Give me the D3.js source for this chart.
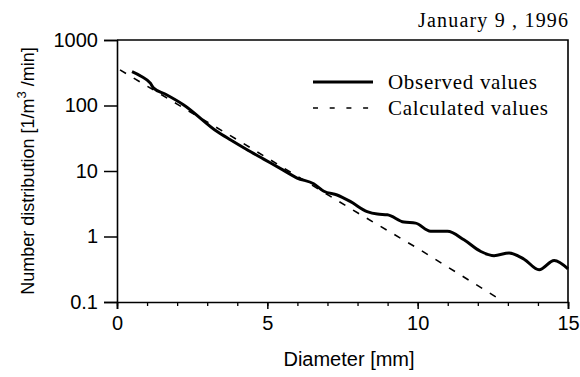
<!DOCTYPE html>
<html><head><meta charset="utf-8">
<script src="https://cdn.jsdelivr.net/npm/d3@7"></script>
<style>body{margin:0;background:#fff}svg{display:block}</style>
</head><body>
<script>
// Observed values: diameter (mm) and number distribution
const obsD = [0.5, 0.8, 1.11, 1.22, 1.6, 2.22, 3.33, 3.77, 4.3, 4.88, 5.5, 5.99, 6.54, 6.88, 7.32, 7.77, 8.32, 8.66, 8.99, 9.54, 9.93, 10.43, 10.99, 11.54, 12.1, 12.54, 13.04, 13.54, 14.04, 14.54, 15.0];
const obsN = [329, 280, 219, 184, 150, 102, 40, 30, 21.5, 15.2, 10.5, 7.8, 6.4, 4.9, 4.3, 3.4, 2.4, 2.2, 2.15, 1.66, 1.6, 1.2, 1.2, 0.89, 0.59, 0.51, 0.56, 0.45, 0.31, 0.43, 0.32];
// Calculated values
const calcD = [0.1, 2, 4, 6, 8, 10, 12.8];
const calcN = [350, 105, 30, 8.3, 2.3, 0.66, 0.105];
const xTicks = [0, 5, 10, 15];
const xMinor = d3.range(0, 16);
const yTicks = [0.1, 1, 10, 100, 1000];
const yTickLabels = ["0.1", "1", "10", "100", "1000"];
const legendLabels = ["Observed values", "Calculated values"];
const dateLabel = "January 9 , 1996";
const xTitle = "Diameter [mm]";

const W = 580, H = 377;
const m = {l: 117, r: 568, t: 40, b: 302};
const svg = d3.select("body").append("svg").attr("width", W).attr("height", H);
const x = d3.scaleLinear().domain([0, 15]).range([m.l, m.r]);
const y = d3.scaleLog().domain([0.1, 1000]).range([m.b, m.t]);
const sans = "'Liberation Sans', Arial, sans-serif";
const serif = "'Liberation Serif', 'Times New Roman', serif";

// frame
svg.append("path").attr("d", `M${m.l},${m.t}H${m.r}V${m.b}`).attr("fill", "none").attr("stroke", "#000").attr("stroke-width", 1.6);

// x axis: minor ticks
const xMinorAxis = d3.axisBottom(x).tickValues(xMinor).tickSize(4).tickFormat("");
svg.append("g").attr("transform", `translate(0,${m.b})`).call(xMinorAxis)
  .call(g => g.select(".domain").remove())
  .call(g => g.selectAll("line").attr("stroke-width", 1.3));
const xAxis = d3.axisBottom(x).tickValues(xTicks).tickSize(7).tickPadding(7).tickFormat(d3.format("d"));
svg.append("g").attr("transform", `translate(0,${m.b})`).call(xAxis)
  .call(g => g.select(".domain").attr("stroke-width", 1.6))
  .call(g => g.selectAll("line").attr("stroke-width", 1.5))
  .call(g => g.selectAll("text").attr("font-family", sans).attr("font-size", 20).attr("fill", "#000"));

// y axis
const yAxis = d3.axisLeft(y).tickValues(yTicks).tickSize(13).tickPadding(6).tickFormat((d, i) => yTickLabels[i]);
svg.append("g").attr("transform", `translate(${m.l},0)`).call(yAxis)
  .call(g => g.select(".domain").attr("stroke-width", 1.6))
  .call(g => g.selectAll("line").attr("stroke-width", 1.5))
  .call(g => g.selectAll("text").attr("font-family", sans).attr("font-size", 20).attr("fill", "#000"));

// lines
const obs = obsD.map((d, i) => [d, obsN[i]]);
const calc = calcD.map((d, i) => [d, calcN[i]]);
const line = d3.line().x(d => x(d[0])).y(d => y(d[1])).curve(d3.curveMonotoneX);
svg.append("path").datum(calc).attr("d", d3.line().x(d => x(d[0])).y(d => y(d[1])))
  .attr("fill", "none").attr("stroke", "#000").attr("stroke-width", 1.6).attr("stroke-dasharray", "7,9");
svg.append("path").datum(obs).attr("d", line)
  .attr("fill", "none").attr("stroke", "#000").attr("stroke-width", 3).attr("stroke-linejoin", "round");

// legend
const lg = svg.append("g");
lg.append("line").attr("x1", 313).attr("x2", 373).attr("y1", 82).attr("y2", 82).attr("stroke", "#000").attr("stroke-width", 3);
lg.append("line").attr("x1", 313).attr("x2", 373).attr("y1", 108).attr("y2", 108).attr("stroke", "#000").attr("stroke-width", 1.6).attr("stroke-dasharray", "5,11.7");
lg.append("text").attr("x", 388).attr("y", 89).attr("font-family", serif).attr("font-size", 21)
  .attr("textLength", 149).attr("lengthAdjust", "spacing").text(legendLabels[0]);
lg.append("text").attr("x", 388).attr("y", 115).attr("font-family", serif).attr("font-size", 21)
  .attr("textLength", 160).attr("lengthAdjust", "spacing").text(legendLabels[1]);

// date
svg.append("text").attr("x", 418).attr("y", 27).attr("font-family", serif).attr("font-size", 20)
  .attr("textLength", 150).attr("lengthAdjust", "spacing").text(dateLabel);

// axis titles
svg.append("text").attr("x", 349).attr("y", 366).attr("text-anchor", "middle")
  .attr("font-family", sans).attr("font-size", 20).text(xTitle);
const yt = svg.append("text").attr("transform", `translate(34,171) rotate(-90)`).attr("text-anchor", "middle")
  .attr("font-family", sans).attr("font-size", 18);
yt.append("tspan").text("Number distribution [1/m");
yt.append("tspan").attr("dy", -8).attr("font-size", 13).text("3");
yt.append("tspan").attr("dy", 8).text(" /min]");
</script>
</body></html>
